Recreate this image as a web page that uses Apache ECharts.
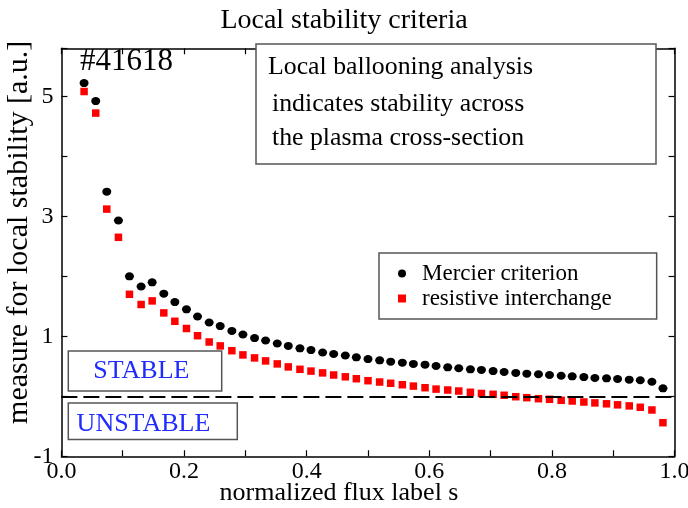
<!DOCTYPE html>
<html>
<head>
<meta charset="utf-8">
<script src="https://cdn.jsdelivr.net/npm/echarts@6/dist/echarts.min.js"></script>
<style>
  html, body { margin: 0; padding: 0; background: #fff; }
  #chart { width: 688px; height: 508px; }
</style>
</head>
<body>
<div id="chart"></div>
<script>
// normalized flux label s of each evaluated surface
const fluxLabel = [0.037, 0.056, 0.074, 0.093, 0.111, 0.130, 0.148, 0.167, 0.185, 0.204,
  0.222, 0.241, 0.259, 0.278, 0.296, 0.315, 0.333, 0.352, 0.370, 0.389,
  0.407, 0.426, 0.444, 0.463, 0.481, 0.500, 0.519, 0.537, 0.556, 0.574,
  0.593, 0.611, 0.630, 0.648, 0.667, 0.685, 0.704, 0.722, 0.741, 0.759,
  0.778, 0.796, 0.815, 0.833, 0.852, 0.870, 0.889, 0.907, 0.926, 0.944,
  0.963, 0.981];

// Mercier criterion (a.u.)
const mercier = [5.22, 4.92, 3.41, 2.93, 2.00, 1.83, 1.90, 1.71, 1.57, 1.45,
  1.33, 1.23, 1.17, 1.09, 1.03, 0.97, 0.93, 0.88, 0.84, 0.80,
  0.77, 0.73, 0.705, 0.68, 0.65, 0.62, 0.60, 0.577, 0.56, 0.54,
  0.527, 0.505, 0.483, 0.467, 0.45, 0.44, 0.42, 0.405, 0.39, 0.377,
  0.367, 0.355, 0.343, 0.333, 0.32, 0.305, 0.30, 0.288, 0.277, 0.267,
  0.243, 0.133];

// resistive interchange criterion (a.u.)
const resistive = [5.08, 4.72, 3.12, 2.65, 1.70, 1.53, 1.59, 1.39, 1.25, 1.13,
  1.01, 0.905, 0.84, 0.76, 0.69, 0.64, 0.59, 0.54, 0.49, 0.45,
  0.42, 0.39, 0.355, 0.325, 0.293, 0.26, 0.238, 0.217, 0.193, 0.17,
  0.143, 0.12, 0.105, 0.088, 0.067, 0.047, 0.033, 0.017, -0.007, -0.023,
  -0.04, -0.05, -0.067, -0.078, -0.095, -0.11, -0.125, -0.142, -0.16, -0.183,
  -0.228, -0.44];

const xTickLabels = ['0.0', '0.2', '0.4', '0.6', '0.8', '1.0'];
const yTickLabels = ['-1', '1', '3', '5'];

const seriesNames = ['Mercier criterion', 'resistive interchange'];
const shotLabel = '#41618';
const noteLines = ['Local ballooning analysis', 'indicates stability across', 'the plasma cross-section'];

const FONT = '"Liberation Serif", "Times New Roman", serif';
const pair = (ys) => fluxLabel.map((s, i) => [s, ys[i]]);

const chart = echarts.init(document.getElementById('chart'), null, { renderer: 'canvas' });

const frameAxis = {
  axisLine: { show: true, onZero: false, lineStyle: { color: '#000', width: 1.5 } },
  axisTick: { show: true, inside: true, length: 6, lineStyle: { color: '#000', width: 1.2 } },
  splitLine: { show: false }
};

chart.setOption({
  backgroundColor: '#fff',
  animation: false,
  title: {
    text: 'Local stability criteria',
    left: 'center',
    top: 2,
    textStyle: { fontFamily: FONT, fontSize: 28, fontWeight: 'normal', color: '#000' }
  },
  grid: {
    left: 61.4, right: 13.4, top: 48.3, bottom: 51.7,
    containLabel: false,
    outerBoundsMode: 'none'
  },
  legend: {
    orient: 'vertical',
    left: 379,
    top: 253,
    padding: [9, 45, 9, 19],
    itemGap: 2,
    itemWidth: 30,
    itemHeight: 8,
    borderColor: '#555',
    borderWidth: 1.5,
    backgroundColor: '#fff',
    data: [
      { name: seriesNames[0], icon: 'circle' },
      { name: seriesNames[1], icon: 'path://M0,0h10v10h-10z' }
    ],
    itemStyle: { opacity: 1 },
    textStyle: { fontFamily: FONT, fontSize: 23, color: '#000', lineHeight: 22 }
  },
  xAxis: [
    Object.assign({
      type: 'value', min: 0, max: 1, interval: 0.1, position: 'bottom',
      name: 'normalized flux label s', nameLocation: 'middle', nameGap: 24,
      nameMoveOverlap: false,
      nameTextStyle: { fontFamily: FONT, fontSize: 26, color: '#000', padding: [0, 58, 0, 0] },
      axisLabel: {
        margin: 3, fontFamily: FONT, fontSize: 24, color: '#000',
        formatter: (v) => {
          const k = Math.round(v * 10);
          return k % 2 === 0 ? xTickLabels[k / 2] : '';
        }
      }
    }, frameAxis),
    Object.assign({
      type: 'value', min: 0, max: 1, interval: 0.1, position: 'top',
      axisLabel: { show: false }
    }, frameAxis)
  ],
  yAxis: [
    Object.assign({
      type: 'value', min: -1, max: 5.8, interval: 1, position: 'left',
      name: 'measure for local stability [a.u.]', nameLocation: 'middle', nameGap: 27,
      nameMoveOverlap: false,
      nameTextStyle: { fontFamily: FONT, fontSize: 30, color: '#000', padding: [0, 0, 0, 40] },
      axisLabel: {
        margin: 8, fontFamily: FONT, fontSize: 24, color: '#000',
        formatter: (v) => {
          const idx = yTickLabels.indexOf(String(v));
          return idx >= 0 ? yTickLabels[idx] : '';
        }
      }
    }, frameAxis),
    Object.assign({
      type: 'value', min: -1, max: 5.8, interval: 1, position: 'right',
      axisLabel: { show: false }
    }, frameAxis)
  ],
  series: [
    {
      name: seriesNames[0],
      type: 'scatter',
      z: 3,
      symbol: 'circle',
      symbolSize: [9, 8],
      itemStyle: { color: '#000', opacity: 1 },
      data: pair(mercier),
      markLine: {
        silent: true,
        symbol: 'none',
        label: { show: false },
        lineStyle: { color: '#000', width: 2, type: [16, 6], opacity: 1 },
        data: [{ yAxis: 0 }]
      }
    },
    {
      name: seriesNames[1],
      type: 'scatter',
      z: 4,
      symbol: 'rect',
      symbolSize: 7.5,
      itemStyle: { color: '#ff0000', opacity: 1 },
      data: pair(resistive)
    }
  ],
  graphic: [
    {
      type: 'text', left: 80, top: 46, z: 10,
      style: { text: shotLabel, font: '31px ' + FONT, fill: '#000' }
    },
    {
      type: 'rect', z: 10,
      shape: { x: 256, y: 44, width: 400, height: 120 },
      style: { fill: '#fff', stroke: '#555', lineWidth: 1.5 }
    },
    {
      type: 'text', x: 268, y: 67.3, z: 11,
      style: { text: noteLines[0], font: '25.8px ' + FONT, fill: '#000', verticalAlign: 'middle' }
    },
    {
      type: 'text', x: 272, y: 104, z: 11,
      style: { text: noteLines[1], font: '25.8px ' + FONT, fill: '#000', verticalAlign: 'middle' }
    },
    {
      type: 'text', x: 272, y: 138.3, z: 11,
      style: { text: noteLines[2], font: '25.8px ' + FONT, fill: '#000', verticalAlign: 'middle' }
    },
    {
      type: 'rect', z: 10,
      shape: { x: 68.3, y: 351, width: 153.4, height: 40 },
      style: { fill: 'none', stroke: '#555', lineWidth: 1.5 }
    },
    {
      type: 'text', x: 93.3, y: 371.6, z: 11,
      style: { text: 'STABLE', font: '26px ' + FONT, fill: '#1f2bff', verticalAlign: 'middle' }
    },
    {
      type: 'rect', z: 10,
      shape: { x: 68.3, y: 403, width: 169, height: 36.5 },
      style: { fill: 'none', stroke: '#555', lineWidth: 1.5 }
    },
    {
      type: 'text', x: 76.6, y: 424, z: 11,
      style: { text: 'UNSTABLE', font: '26px ' + FONT, fill: '#1f2bff', verticalAlign: 'middle' }
    }
  ]
});
</script>
</body>
</html>
